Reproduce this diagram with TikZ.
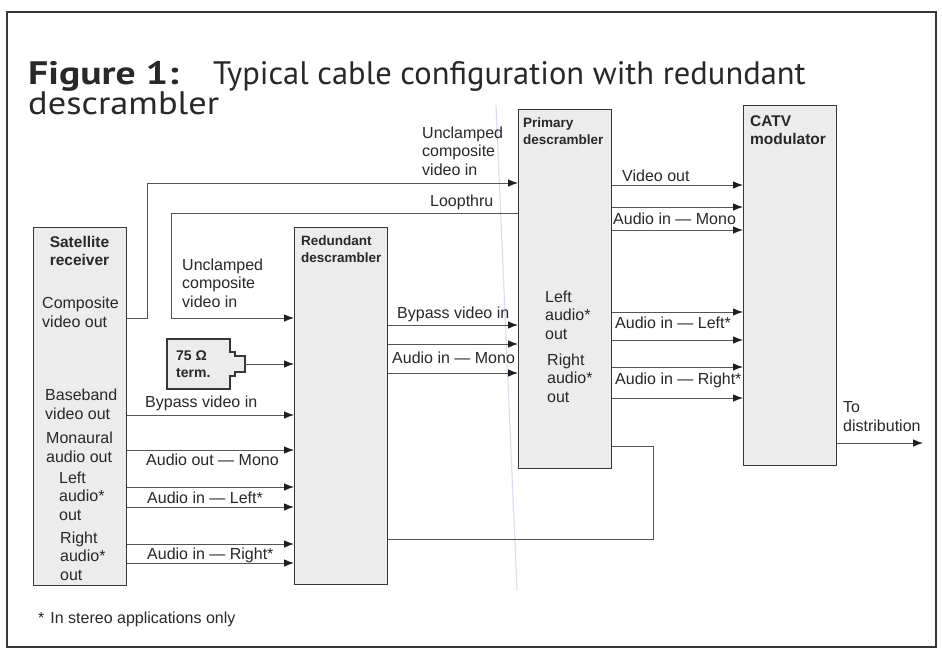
\documentclass[tikz,border=0pt]{standalone}
\usepackage{fontspec}
\setmainfont{Liberation Sans}
\newfontfamily\titlefont{PT Sans}
\usetikzlibrary{arrows.meta}
\definecolor{boxfill}{RGB}{236,236,236}
\definecolor{boxline}{RGB}{55,55,55}
\definecolor{txt}{RGB}{40,40,40}
\definecolor{wire}{RGB}{85,85,85}
\definecolor{tipclr}{RGB}{30,30,30}
\definecolor{fold}{RGB}{222,222,242}
\begin{document}
\begin{tikzpicture}[x=1pt,y=-1pt,
  box/.style={draw=boxline,fill=boxfill,line width=1.3pt,inner sep=0pt,anchor=north west},
  wirestyle/.style={draw=wire,line width=0.9pt},
  arr/.style={wirestyle,-{Latex[length=10pt,width=7.5pt,color=tipclr]}},
  lbl/.style={anchor=base west,inner sep=0pt,text=txt,font=\fontsize{16}{18.5}\selectfont,align=left},
  btitle/.style={anchor=base west,inner sep=0pt,text=txt,font=\bfseries\fontsize{13.5}{17}\selectfont,align=left},
  bigtitle/.style={anchor=base west,inner sep=0pt,text=txt,font=\bfseries\fontsize{15.5}{18}\selectfont,align=left},
  ttl/.style={anchor=base west,inner sep=0pt,text=txt,font=\titlefont\fontsize{32.5}{36}\selectfont},
]
\useasboundingbox (0,0) rectangle (942,649);
\fill[white] (0,0) rectangle (942,649);
% frame
\draw[boxline,line width=1.6pt] (7,12) rectangle (936,647);
% faint fold mark
\draw[fold,line width=1.2pt] (496,105) -- (517,590);

% title
\node[ttl,font=\titlefont\bfseries\fontsize{32.5}{36}\selectfont] (title1) at (28,84) {\scalebox{1.22}[1]{Figure 1:}};
\node[ttl] (title2) at (213,84) {Typical cable configuration with redundant};
\node[ttl] (title3) at (28,114) {\scalebox{1.12}[1]{descrambler}};

% boxes
\node[box,minimum width=93pt,minimum height=358pt] (sat) at (33,227) {};
\node[box,minimum width=93pt,minimum height=357pt] (red) at (294,227) {};
\node[box,minimum width=93pt,minimum height=359pt] (pri) at (518,109) {};
\node[box,minimum width=93pt,minimum height=360pt] (catv) at (743,105) {};

% 75 ohm termination
\draw[draw=boxline,fill=boxfill,line width=1.3pt]
  (167,339) -- (230,339) -- (230,352) -- (235,352) -- (235,356) -- (245,356) -- (245,372)
  -- (235,372) -- (235,376) -- (230,376) -- (230,389) -- (167,389) -- cycle;
\coordinate (termout) at (245,364);
\node[anchor=base west,inner sep=0pt,text=txt,font=\bfseries\fontsize{14}{17}\selectfont,align=left] (termtxt) at (176,377) {75 Ω\\term.};

% box titles (anchor = baseline of last line)
\node[anchor=base,inner sep=0pt,text=txt,font=\bfseries\fontsize{15.5}{18}\selectfont,align=center] (sattitle) at (79.5,265) {Satellite\\receiver};
\node[btitle] (redtitle) at (301,262) {Redundant\\descrambler};
\node[btitle] (prititle) at (523,144) {Primary\\descrambler};
\node[bigtitle] (catvtitle) at (750,144) {CATV\\modulator};

% satellite receiver port labels
\node[lbl] (s1) at (42,327) {Composite\\video out};
\node[lbl] (s2) at (45,419) {Baseband\\video out};
\node[lbl] (s3) at (46,462) {Monaural\\audio out};
\node[lbl] (s4) at (59,520) {Left\\audio*\\out};
\node[lbl] (s5) at (60,580) {Right\\audio*\\out};

% primary descrambler port labels
\node[lbl] (p1) at (545,339) {Left\\audio*\\out};
\node[lbl] (p2) at (547,402) {Right\\audio*\\out};

% composite video to primary descrambler
\draw[arr] (sat.east |- 0,318) -- (147,318) -- (147,183) -- (pri.west |- 0,183);
\node[lbl] (l1) at (422,175) {Unclamped\\composite\\video in};
% loopthru to redundant descrambler
\draw[arr] (pri.west |- 0,213) -- (171,213) -- (171,318) -- (red.west |- 0,318);
\node[lbl] (l2) at (430,206) {Loopthru};
\node[lbl] (l3) at (182,307) {Unclamped\\composite\\video in};
% termination
\draw[arr] (termout) -- (red.west |- termout);

% satellite -> redundant
\draw[arr] (sat.east |- 0,415) -- (red.west |- 0,415);
\node[lbl] (l4) at (145,407) {Bypass video in};
\draw[arr] (sat.east |- 0,450) -- (red.west |- 0,450);
\node[lbl] (l5) at (146,465) {Audio out — Mono};
\draw[arr] (sat.east |- 0,487) -- (red.west |- 0,487);
\draw[arr] (sat.east |- 0,507) -- (red.west |- 0,507);
\node[lbl] (l6) at (147,503) {Audio in — Left*};
\draw[arr] (sat.east |- 0,544) -- (red.west |- 0,544);
\draw[arr] (sat.east |- 0,563) -- (red.west |- 0,563);
\node[lbl] (l7) at (147,559) {Audio in — Right*};

% redundant -> primary
\draw[arr] (red.east |- 0,325) -- (pri.west |- 0,325);
\node[lbl] (l8) at (397,318) {Bypass video in};
\draw[arr] (red.east |- 0,344) -- (pri.west |- 0,344);
\draw[arr] (red.east |- 0,373) -- (pri.west |- 0,373);
\node[lbl] (l9) at (392,363) {Audio in — Mono};

% feedback loop
\draw[wirestyle] (pri.east |- 0,446) -- (653,446) -- (653,539) -- (red.east |- 0,539);

% primary -> CATV
\draw[arr] (pri.east |- 0,185) -- (catv.west |- 0,185);
\node[lbl] (l10) at (622,181) {Video out};
\draw[arr] (pri.east |- 0,207) -- (catv.west |- 0,207);
\draw[arr] (pri.east |- 0,230) -- (catv.west |- 0,230);
\node[lbl] (l11) at (613,224) {Audio in — Mono};
\draw[arr] (pri.east |- 0,312) -- (catv.west |- 0,312);
\draw[arr] (pri.east |- 0,340) -- (catv.west |- 0,340);
\node[lbl] (l12) at (615,328) {Audio in — Left*};
\draw[arr] (pri.east |- 0,367) -- (catv.west |- 0,367);
\draw[arr] (pri.east |- 0,398) -- (catv.west |- 0,398);
\node[lbl] (l13) at (615,384) {Audio in — Right*};

% output
\coordinate (dist) at (923,443);
\draw[arr] (catv.east |- dist) -- (dist);
\node[lbl] (l14) at (843,431) {To\\distribution};

% footnote
\node[lbl] (foot) at (38,623) {*\hspace{6pt}In stereo applications only};
\end{tikzpicture}
\end{document}
